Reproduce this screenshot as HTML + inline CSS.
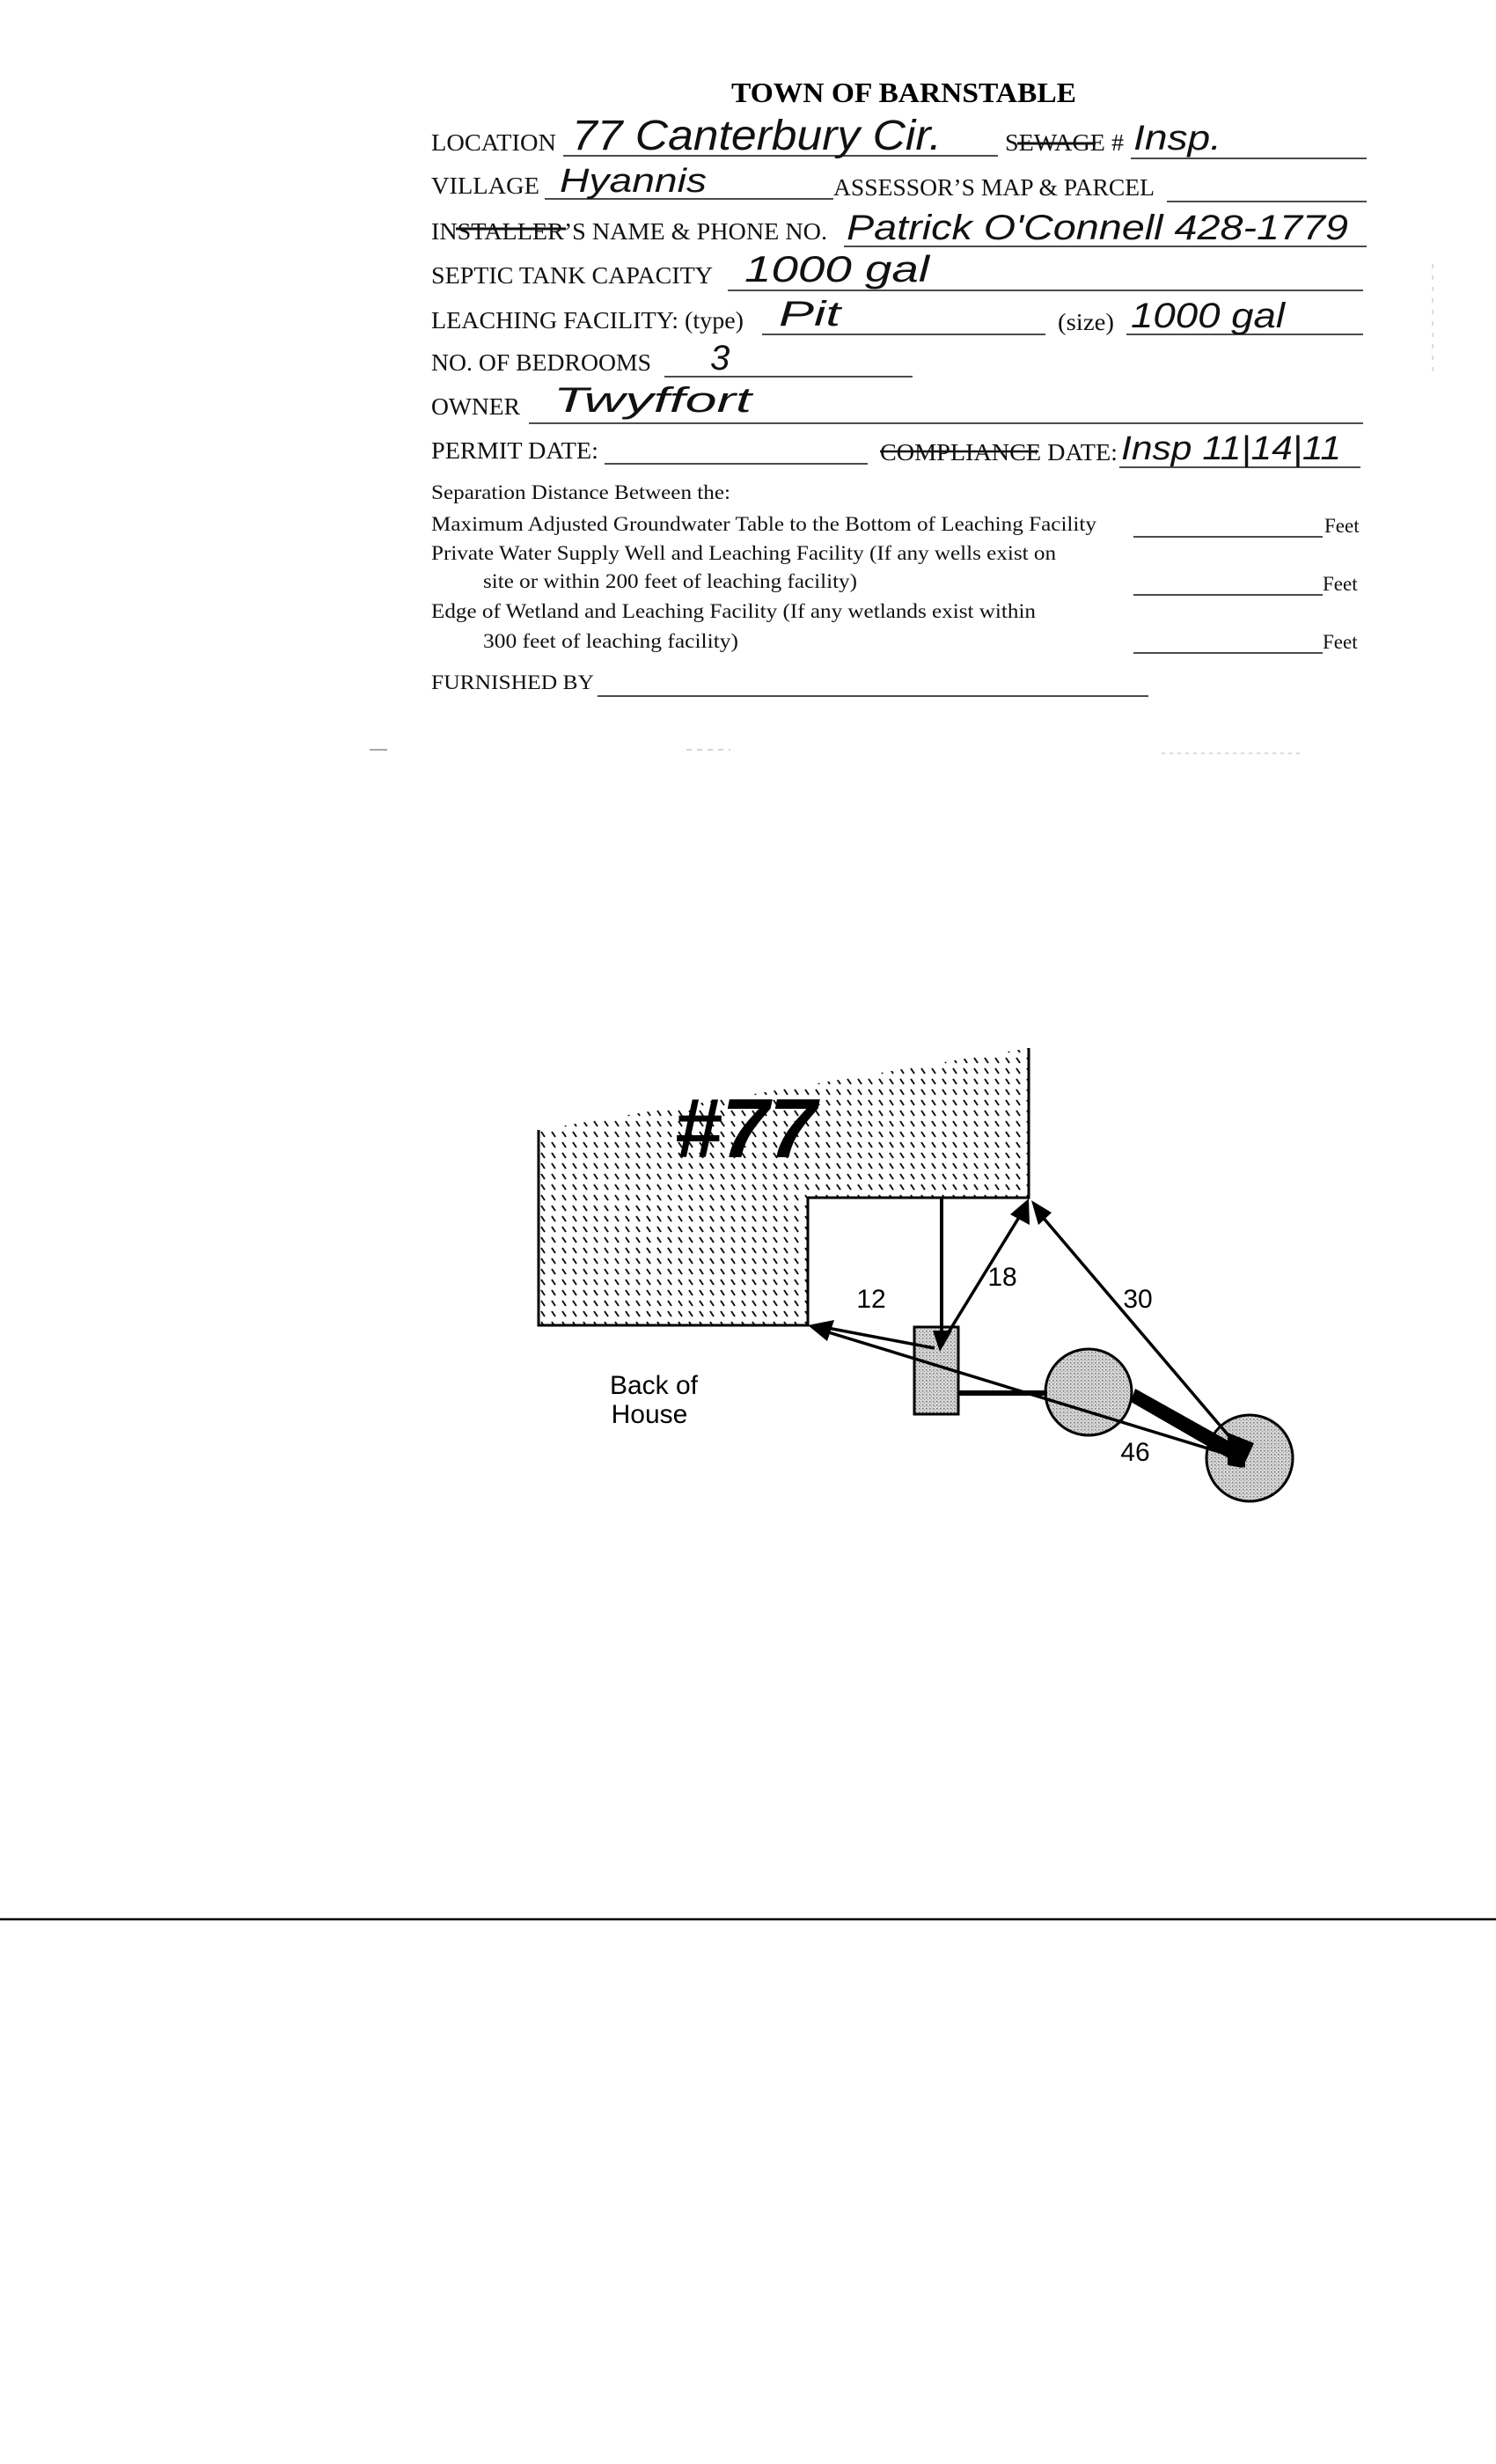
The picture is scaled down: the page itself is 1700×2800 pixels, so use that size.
<!DOCTYPE html>
<html><head><meta charset="utf-8"><style>
html,body{margin:0;padding:0;background:#fff;}
svg{display:block;}
.f{font-family:"Liberation Serif",serif;font-size:27px;fill:#111;}
.s{font-family:"Liberation Serif",serif;font-size:23px;fill:#111;}
.h{font-family:"Liberation Sans",sans-serif;font-style:italic;fill:#111;}
.ln{stroke:#111;stroke-width:1.6;}
</style></head><body>
<svg width="1700" height="2800" viewBox="0 0 1700 2800" xmlns="http://www.w3.org/2000/svg">
<defs>
<pattern id="hat" width="12" height="12" patternUnits="userSpaceOnUse">
<line x1="3" y1="2" x2="7" y2="8" stroke="#111" stroke-width="2"/>
</pattern>
<pattern id="dot" width="4" height="4" patternUnits="userSpaceOnUse">
<rect width="4" height="4" fill="#d6d6d6"/><rect x="0" y="0" width="1.5" height="1.5" fill="#777"/><rect x="2" y="2" width="1" height="1" fill="#999"/>
</pattern>
</defs>

<text x="1027" y="116" text-anchor="middle" font-family="Liberation Serif" font-weight="bold" font-size="32" textLength="392" lengthAdjust="spacingAndGlyphs">TOWN OF BARNSTABLE</text>

<text class="f" x="490" y="171" textLength="142" lengthAdjust="spacingAndGlyphs">LOCATION</text>
<line class="ln" x1="640" y1="177" x2="1134" y2="177"/>
<text class="f" x="1142" y="171" textLength="135" lengthAdjust="spacingAndGlyphs">SEWAGE #</text>
<line x1="1156" y1="163" x2="1245" y2="163" stroke="#111" stroke-width="3"/>
<line class="ln" x1="1285" y1="180" x2="1553" y2="180"/>
<text class="h" x="650" y="170" font-size="48" textLength="420" lengthAdjust="spacingAndGlyphs">77 Canterbury Cir.</text>
<text class="h" x="1288" y="170" font-size="40" textLength="100" lengthAdjust="spacingAndGlyphs">Insp.</text>

<text class="f" x="490" y="220" textLength="123" lengthAdjust="spacingAndGlyphs">VILLAGE</text>
<line class="ln" x1="619" y1="226" x2="947" y2="226"/>
<text class="f" x="947" y="222" textLength="365" lengthAdjust="spacingAndGlyphs">ASSESSOR’S MAP &amp; PARCEL</text>
<line class="ln" x1="1326" y1="229" x2="1553" y2="229"/>
<text class="h" x="636" y="218" font-size="38" textLength="167" lengthAdjust="spacingAndGlyphs">Hyannis</text>

<text class="f" x="490" y="272" textLength="450" lengthAdjust="spacingAndGlyphs">INSTALLER’S NAME &amp; PHONE NO.</text>
<line x1="518" y1="260" x2="643" y2="260" stroke="#111" stroke-width="3"/>
<line class="ln" x1="959" y1="280" x2="1553" y2="280"/>
<text class="h" x="962" y="272" font-size="40" textLength="570" lengthAdjust="spacingAndGlyphs">Patrick O'Connell   428-1779</text>

<text class="f" x="490" y="322" textLength="320" lengthAdjust="spacingAndGlyphs">SEPTIC TANK CAPACITY</text>
<line class="ln" x1="827" y1="330" x2="1549" y2="330"/>
<text class="h" x="846" y="320" font-size="42" textLength="210" lengthAdjust="spacingAndGlyphs">1000 gal</text>

<text class="f" x="490" y="373" textLength="355" lengthAdjust="spacingAndGlyphs">LEACHING FACILITY: (type)</text>
<line class="ln" x1="866" y1="380" x2="1188" y2="380"/>
<text class="f" x="1202" y="375" textLength="64" lengthAdjust="spacingAndGlyphs">(size)</text>
<line class="ln" x1="1280" y1="380" x2="1549" y2="380"/>
<text class="h" x="885" y="370" font-size="40" textLength="70" lengthAdjust="spacingAndGlyphs">Pit</text>
<text class="h" x="1285" y="372" font-size="40" textLength="175" lengthAdjust="spacingAndGlyphs">1000 gal</text>

<text class="f" x="490" y="421" textLength="250" lengthAdjust="spacingAndGlyphs">NO. OF BEDROOMS</text>
<line class="ln" x1="755" y1="428" x2="1037" y2="428"/>
<text class="h" x="807" y="420" font-size="40">3</text>

<text class="f" x="490" y="471" textLength="101" lengthAdjust="spacingAndGlyphs">OWNER</text>
<line class="ln" x1="601" y1="481" x2="1549" y2="481"/>
<text class="h" x="629" y="468" font-size="40" textLength="225" lengthAdjust="spacingAndGlyphs">Twyffort</text>

<text class="f" x="490" y="521" textLength="190" lengthAdjust="spacingAndGlyphs">PERMIT DATE:</text>
<line class="ln" x1="687" y1="527" x2="986" y2="527"/>
<text class="f" x="1000" y="523" textLength="270" lengthAdjust="spacingAndGlyphs">COMPLIANCE DATE:</text>
<line x1="1000" y1="513" x2="1180" y2="513" stroke="#111" stroke-width="2.5"/>
<line class="ln" x1="1272" y1="531" x2="1546" y2="531"/>
<text class="h" x="1274" y="522" font-size="38" textLength="250" lengthAdjust="spacingAndGlyphs">Insp  11|14|11</text>

<text class="s" x="490" y="567" textLength="340" lengthAdjust="spacingAndGlyphs">Separation Distance Between the:</text>
<text class="s" x="490" y="603" textLength="756" lengthAdjust="spacingAndGlyphs">Maximum Adjusted Groundwater Table to the Bottom of Leaching Facility</text>
<line class="ln" x1="1288" y1="610" x2="1503" y2="610"/>
<text class="s" x="1505" y="605">Feet</text>
<text class="s" x="490" y="636" textLength="710" lengthAdjust="spacingAndGlyphs">Private Water Supply Well and Leaching Facility (If any wells exist on</text>
<text class="s" x="549" y="668" textLength="425" lengthAdjust="spacingAndGlyphs">site or within 200 feet of leaching facility)</text>
<line class="ln" x1="1288" y1="676" x2="1503" y2="676"/>
<text class="s" x="1503" y="671">Feet</text>
<text class="s" x="490" y="702" textLength="687" lengthAdjust="spacingAndGlyphs">Edge of Wetland and Leaching Facility (If any wetlands exist within</text>
<text class="s" x="549" y="736" textLength="290" lengthAdjust="spacingAndGlyphs">300 feet of leaching facility)</text>
<line class="ln" x1="1288" y1="742" x2="1503" y2="742"/>
<text class="s" x="1503" y="737">Feet</text>
<text class="s" x="490" y="783" textLength="185" lengthAdjust="spacingAndGlyphs">FURNISHED BY</text>
<line class="ln" x1="679" y1="791" x2="1305" y2="791"/>

<line x1="420" y1="852" x2="440" y2="852" stroke="#888" stroke-width="1.5"/>
<line x1="780" y1="852" x2="830" y2="852" stroke="#aaa" stroke-width="1" stroke-dasharray="6 6"/>
<line x1="1320" y1="856" x2="1480" y2="856" stroke="#bbb" stroke-width="1" stroke-dasharray="4 5"/>
<line x1="1628" y1="300" x2="1628" y2="430" stroke="#bbb" stroke-width="1" stroke-dasharray="5 8"/>

<polygon points="612,1284 1169,1191 1169,1361 918,1361 918,1506 612,1506" fill="url(#hat)"/>
<polyline points="612,1284 612,1506 918,1506 918,1361 1169,1361 1169,1191" fill="none" stroke="#000" stroke-width="3"/>
<text x="766" y="1315" font-family="Liberation Sans" font-weight="bold" font-style="italic" font-size="96" textLength="162" lengthAdjust="spacingAndGlyphs">#77</text>

<rect x="1039" y="1508" width="50" height="99" fill="url(#dot)" stroke="#000" stroke-width="3"/>
<circle cx="1237" cy="1582" r="49" fill="url(#dot)" stroke="#000" stroke-width="3"/>
<circle cx="1420" cy="1657" r="49" fill="url(#dot)" stroke="#000" stroke-width="3"/>

<line x1="1070" y1="1361" x2="1070" y2="1520" stroke="#000" stroke-width="4"/>
<polygon points="1060,1512 1082,1512 1068,1536" fill="#000"/>
<line x1="1062" y1="1532" x2="935" y2="1508" stroke="#000" stroke-width="3.5"/>
<line x1="1412" y1="1658" x2="935" y2="1512" stroke="#000" stroke-width="3.5"/>
<polygon points="918,1506 948,1500 940,1524" fill="#000"/>
<line x1="1068" y1="1530" x2="1160" y2="1380" stroke="#000" stroke-width="3.5"/>
<polygon points="1169,1362 1170,1392 1148,1380" fill="#000"/>
<line x1="1178" y1="1375" x2="1412" y2="1650" stroke="#000" stroke-width="3.5"/>
<polygon points="1172,1364 1195,1378 1180,1392" fill="#000"/>
<line x1="1089" y1="1583" x2="1190" y2="1583" stroke="#000" stroke-width="6"/>
<polygon points="1285,1593 1290,1578 1415,1648 1415,1668" fill="#000"/>
<polygon points="1395,1628 1425,1640 1412,1668 1395,1665" fill="#000"/>

<g font-family="Liberation Sans" font-size="30" fill="#000" text-anchor="middle">
<text x="990" y="1486">12</text>
<text x="1139" y="1461">18</text>
<text x="1293" y="1486">30</text>
<text x="1290" y="1660">46</text>
<text x="743" y="1584">Back of</text>
<text x="738" y="1617">House</text>
</g>

<line x1="0" y1="2181" x2="1700" y2="2181" stroke="#000" stroke-width="2.5"/>
</svg>
</body></html>
